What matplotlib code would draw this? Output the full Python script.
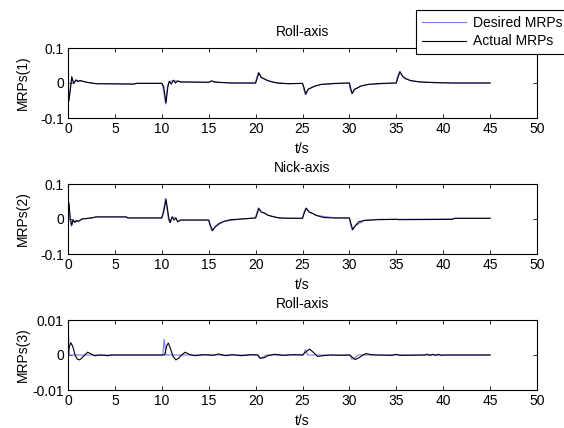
#!/usr/bin/env python3
"""
Plot desired vs. actual MRPs for the three attitude axes.
"""

import numpy as np
import matplotlib
matplotlib.use('Agg')
import matplotlib.pyplot as plt

# (time [s], value) breakpoints of each trace
roll_des = [
  (0, 0.0), (0.08, -0.052), (0.25, -0.01), (0.4, 0.016), (0.6, 0.0), (0.85, 0.008),
  (1.3, 0.006), (2.0, 0.002), (3.0, -0.002), (7.0, -0.003), (7.3, -0.001), (10.0, -0.001),
  (10.15, -0.015), (10.4, -0.06), (10.6, -0.012), (10.8, 0.004), (11.25, 0.007), (11.7, 0.005),
  (12.0, 0.003), (15.0, 0.002), (15.3, 0.006), (15.6, 0.003), (17.5, 0.0), (20.0, 0.0),
  (20.1, 0.014), (20.3, 0.03), (20.6, 0.016), (21.2, 0.008), (22.3, 0.0), (23.5, -0.002),
  (25.0, -0.001), (25.1, -0.014), (25.3, -0.033), (25.6, -0.018), (26.3, -0.009), (27.0, -0.004),
  (30.0, 0.0), (30.05, -0.014), (30.25, -0.031), (30.55, -0.018), (31.2, -0.009), (32.0, -0.004),
  (35.0, 0.0), (35.1, 0.016), (35.35, 0.033), (35.7, 0.018), (36.5, 0.007), (37.5, 0.003),
  (41.0, 0.0), (45.0, 0.0),
]
roll_act = [
  (0, 0.0), (0.1, -0.05), (0.25, -0.02), (0.4, 0.018), (0.6, -0.002), (0.85, 0.009),
  (1.05, 0.004), (1.3, 0.007), (2.0, 0.002), (3.0, -0.002), (7.0, -0.003), (7.3, -0.001),
  (10.0, -0.001), (10.2, -0.01), (10.45, -0.057), (10.65, -0.01), (10.8, 0.005), (11.0, -0.003),
  (11.25, 0.008), (11.45, 0.0), (11.7, 0.006), (12.0, 0.003), (15.0, 0.002), (15.3, 0.006),
  (15.6, 0.003), (16.5, 0.001), (17.5, 0.0), (20.0, 0.0), (20.15, 0.012), (20.35, 0.029),
  (20.6, 0.016), (20.9, 0.012), (21.2, 0.008), (21.6, 0.004), (22.3, 0.0), (23.5, -0.002),
  (25.0, -0.001), (25.15, -0.012), (25.35, -0.032), (25.6, -0.018), (25.9, -0.014), (26.3, -0.009),
  (27.0, -0.004), (28.5, -0.001), (30.0, 0.0), (30.1, -0.012), (30.3, -0.03), (30.55, -0.018),
  (30.8, -0.015), (31.2, -0.009), (32.0, -0.004), (33.5, -0.001), (35.0, 0.0), (35.15, 0.014),
  (35.4, 0.032), (35.7, 0.018), (36.0, 0.012), (36.5, 0.007), (37.5, 0.003), (39.0, 0.001),
  (41.0, 0.0), (45.0, 0.0),
]

nick_des = [
  (0, 0.052), (0.08, 0.048), (0.2, 0.0), (0.35, -0.02), (0.5, -0.002), (0.7, -0.009),
  (1.1, -0.006), (1.5, 0.0), (2.5, 0.003), (3.0, 0.006), (6.2, 0.006), (6.4, 0.003),
  (10.0, 0.003), (10.15, 0.022), (10.4, 0.059), (10.55, 0.03), (10.7, 0.0), (10.85, -0.01),
  (11.1, 0.006), (11.5, 0.003), (11.7, -0.008), (12.0, -0.003), (15.0, -0.003), (15.1, -0.017),
  (15.35, -0.034), (15.7, -0.022), (16.6, -0.007), (18.5, 0.0), (20.0, 0.003), (20.1, 0.016),
  (20.3, 0.032), (20.6, 0.02), (21.3, 0.011), (22.5, 0.003), (25.0, 0.002), (25.1, 0.016),
  (25.35, 0.031), (25.7, 0.02), (26.5, 0.01), (28.5, 0.003), (30.0, 0.003), (30.1, -0.014),
  (30.3, -0.032), (30.6, -0.02), (31.6, -0.004), (33.0, -0.001), (41.0, 0.0), (41.2, 0.002),
  (45.0, 0.002),
]
nick_act = [
  (0, 0.05), (0.1, 0.045), (0.25, 0.0), (0.4, -0.018), (0.55, -0.002), (0.7, -0.01),
  (0.9, -0.004), (1.1, -0.007), (1.5, 0.0), (2.5, 0.003), (3.0, 0.006), (6.2, 0.006),
  (6.4, 0.003), (10.0, 0.003), (10.2, 0.02), (10.45, 0.056), (10.6, 0.03), (10.75, 0.002),
  (10.9, -0.01), (11.1, 0.006), (11.3, -0.003), (11.5, 0.003), (11.7, -0.008), (12.0, -0.003),
  (15.0, -0.003), (15.15, -0.015), (15.4, -0.033), (15.7, -0.022), (16.1, -0.013), (16.6, -0.007),
  (17.3, -0.002), (18.5, 0.0), (20.0, 0.003), (20.15, 0.014), (20.35, 0.03), (20.6, 0.02),
  (20.9, 0.018), (21.3, 0.011), (21.8, 0.007), (22.5, 0.003), (23.5, 0.002), (25.0, 0.002),
  (25.15, 0.014), (25.4, 0.031), (25.7, 0.02), (26.0, 0.017), (26.5, 0.01), (27.3, 0.004),
  (28.5, 0.003), (30.0, 0.003), (30.15, -0.012), (30.35, -0.03), (30.6, -0.02), (31.0, -0.008),
  (31.6, -0.004), (33.0, -0.002), (35.0, -0.001), (35.3, -0.002), (41.0, -0.001), (41.2, 0.002),
  (45.0, 0.002),
]

yaw_des = [
  (0, 0.0095), (0.15, 0.0), (10.1, 0.0), (10.25, 0.0045), (10.45, 0.0), (20.3, 0.0),
  (20.45, -0.001), (20.8, -0.0006), (21.1, 0.0), (25.1, 0.0), (25.3, 0.0015), (25.55, 0.0),
  (30.1, 0.0), (30.25, -0.0012), (30.6, -0.0008), (30.9, 0.0), (45.0, 0.0),
]
yaw_act = [
  (0, 0.0), (0.1, 0.002), (0.3, 0.0035), (0.5, 0.0025), (0.75, 0.0), (1.0, -0.0012),
  (1.25, -0.0014), (1.5, -0.0008), (1.8, 0.0), (2.1, 0.0008), (2.4, 0.0004), (2.8, -0.0002),
  (3.5, 0.0), (4.3, -0.0002), (4.6, 0.0), (10.0, 0.0), (10.3, 0.0), (10.55, 0.0028),
  (10.7, 0.0034), (10.9, 0.002), (11.2, -0.0004), (11.5, -0.0014), (11.8, -0.0009), (12.1, 0.0),
  (12.5, 0.0008), (12.9, 0.0002), (13.5, -0.0002), (14.5, 0.0001), (15.5, -0.0001), (16.0, 0.0003),
  (16.8, -0.0002), (17.5, 0.0001), (18.5, -0.0002), (19.5, 0.0001), (20.2, 0.0), (20.5, -0.0009),
  (20.9, -0.0008), (21.3, -0.0002), (22.0, 0.0002), (23.0, -0.0001), (24.0, 0.0001), (25.0, 0.0),
  (25.4, 0.001), (25.75, 0.0017), (26.1, 0.0009), (26.6, -0.0004), (27.2, -0.0002), (28.0, 0.0),
  (29.0, -0.0001), (30.0, 0.0), (30.3, -0.0006), (30.6, -0.0013), (31.0, -0.0008), (31.5, 0.0001),
  (31.8, 0.0004), (32.3, 0.0001), (33.0, 0.0), (34.5, -0.0001), (35.0, 0.0002), (35.4, -0.0001),
  (38.0, 0.0), (38.3, 0.0002), (38.6, -0.0001), (38.9, 0.0002), (39.2, -0.0001), (39.5, 0.0002),
  (39.8, -0.0001), (40.2, 0.0), (45.0, 0.0),
]

titles = ['Roll-axis', 'Nick-axis', 'Roll-axis']
ylabels = ['MRPs(1)', 'MRPs(2)', 'MRPs(3)']
yticks = [[-0.1, 0, 0.1], [-0.1, 0, 0.1], [-0.01, 0, 0.01]]
yticklabels = [['-0.1', '0', '0.1'], ['-0.1', '0', '0.1'], ['-0.01', '0', '0.01']]
xticks = list(range(0, 51, 5))

W, H = 564, 428
AX_LEFT, AX_RIGHT = 68, 537
AX_TOPS = [48, 184, 320]
AX_H = 70
YLABEL_X = 30

DES_COLOR = '#7a7af5'


def setup_style():
  plt.rcParams['font.family'] = ['Liberation Sans', 'DejaVu Sans']
  plt.rcParams['font.size'] = 10
  plt.rcParams['axes.unicode_minus'] = False
  plt.rcParams['axes.linewidth'] = 0.8


def draw_axis(fig, idx, des, act):
  top = AX_TOPS[idx]
  ax = fig.add_axes([AX_LEFT / W, 1 - (top + AX_H) / H,
                     (AX_RIGHT - AX_LEFT) / W, AX_H / H])
  td, vd = np.array(des).T
  ta, va = np.array(act).T
  l_des, = ax.plot(td, vd, color=DES_COLOR, linewidth=0.8, label='Desired MRPs')
  l_act, = ax.plot(ta, va, color='black', linewidth=0.8, label='Actual MRPs')

  ax.set_xlim(0, 50)
  ax.set_ylim(yticks[idx][0], yticks[idx][-1])
  ax.set_xticks(xticks)
  ax.set_yticks(yticks[idx])
  ax.set_yticklabels(yticklabels[idx])
  ax.tick_params(direction='in', top=True, right=True, length=3, width=0.6, pad=3)
  ax.set_title(titles[idx], fontsize=10, pad=9)
  ax.set_xlabel('t/s', labelpad=4)
  ax.set_ylabel(ylabels[idx])
  # keep all y labels on one vertical line
  ax.yaxis.set_label_coords((YLABEL_X - AX_LEFT) / (AX_RIGHT - AX_LEFT), 0.5)
  return ax, l_des, l_act


def main():
  setup_style()
  fig = plt.figure(figsize=(W / 100, H / 100), dpi=100)

  _, l_des, l_act = draw_axis(fig, 0, roll_des, roll_act)
  draw_axis(fig, 1, nick_des, nick_act)
  draw_axis(fig, 2, yaw_des, yaw_act)

  leg = fig.legend([l_des, l_act], ['Desired MRPs', 'Actual MRPs'],
                   loc='upper left', bbox_to_anchor=(416 / W, 1 - 10 / H),
                   borderaxespad=0, fancybox=False, framealpha=1, edgecolor='black',
                   handlelength=3.2, handletextpad=0.5, borderpad=0.4,
                   labelspacing=0.35, fontsize=10)
  leg.get_frame().set_linewidth(0.8)

  fig.savefig('out.png', dpi=100)


if __name__ == "__main__":
  main()
